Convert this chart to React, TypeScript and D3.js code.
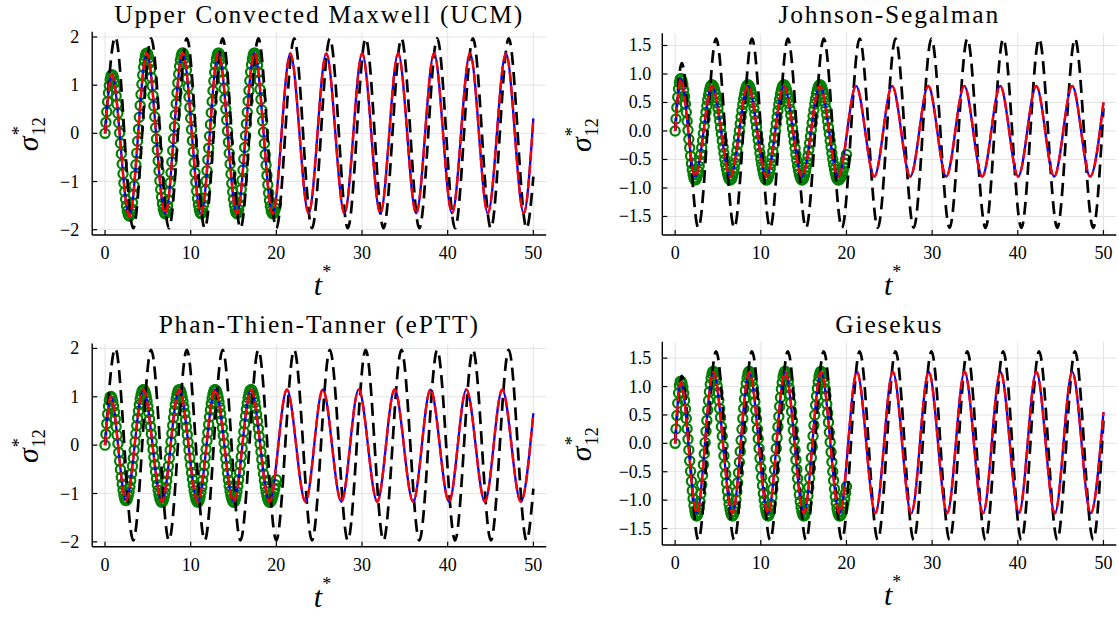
import React from "react";
import * as d3 from "d3";

// ---------------- data (extrema) ----------------
const xTicks = [0, 10, 20, 30, 40, 50];
const yTicksWide = [-2, -1, 0, 1, 2];
const yTicksNarrow = [-1.5, -1, -0.5, 0, 0.5, 1, 1.5];
const trainEnd = 20;
const trainStep = 0.1;

// UCM
const ucmPredT = [0, 0.8, 2.84, 4.87, 7.03, 9.06, 11.21, 13.24, 15.4, 17.44, 19.58, 21.63, 23.77, 25.83, 27.95, 30.02, 32.14, 34.22, 36.32, 38.41, 40.51, 42.61, 44.69, 46.8, 48.88, 50];
const ucmPredV = [0, 1.22, -1.72, 1.67, -1.67, 1.67, -1.67, 1.67, -1.67, 1.67, -1.67, 1.66, -1.66, 1.66, -1.66, 1.66, -1.66, 1.66, -1.66, 1.66, -1.66, 1.66, -1.66, 1.66, -1.66, 0.31];
const ucmTrainT = [0, 0.8, 2.84, 4.87, 7.03, 9.06, 11.21, 13.24, 15.4, 17.44, 19.58, 21.63];
const ucmTrainV = [0, 1.22, -1.72, 1.67, -1.67, 1.67, -1.67, 1.67, -1.67, 1.67, -1.67, 1.67];
// reference (black dashed) of UCM and ePTT panels
const maxwellRefT = [0, 1.2, 3.29, 5.38, 7.46, 9.55, 11.64, 13.73, 15.81, 17.9, 19.99, 22.08, 24.16, 26.25, 28.34, 30.43, 32.51, 34.6, 36.69, 38.78, 40.86, 42.95, 45.04, 47.13, 49.21, 50];
const maxwellRefV = [0, 2.0, -1.97, 1.97, -1.97, 1.97, -1.97, 1.97, -1.97, 1.97, -1.97, 1.97, -1.97, 1.97, -1.97, 1.97, -1.97, 1.97, -1.97, 1.97, -1.97, 1.97, -1.97, 1.97, -1.97, -0.9];

// Johnson-Segalman
const jsPredT = [0, 0.65, 2.33, 4.3, 6.45, 8.5, 10.66, 12.7, 14.82, 16.9, 19.05, 21.12, 23.25, 25.33, 27.45, 29.55, 31.65, 33.75, 35.85, 37.95, 40.05, 42.15, 44.25, 46.35, 48.45, 50];
const jsPredV = [0, 0.91, -0.8, 0.79, -0.8, 0.79, -0.8, 0.79, -0.8, 0.79, -0.8, 0.79, -0.8, 0.79, -0.8, 0.79, -0.8, 0.79, -0.8, 0.79, -0.8, 0.79, -0.8, 0.79, -0.8, 0.5];
const jsTrainT = [0, 0.65, 2.33, 4.3, 6.45, 8.5, 10.66, 12.7, 14.82, 16.9, 19.05, 21.12];
const jsTrainV = [0, 0.92, -0.86, 0.81, -0.86, 0.81, -0.86, 0.81, -0.86, 0.81, -0.86, 0.81];
// reference (black dashed) of JS and Giesekus panels
const nonlinRefT = [0, 0.77, 2.71, 4.78, 6.9, 8.97, 11.09, 13.16, 15.28, 17.35, 19.47, 21.54, 23.66, 25.73, 27.85, 29.92, 32.04, 34.11, 36.23, 38.3, 40.42, 42.49, 44.61, 46.68, 48.8, 50];
const nonlinRefV = [0, 1.19, -1.7, 1.62, -1.7, 1.62, -1.7, 1.62, -1.7, 1.62, -1.7, 1.62, -1.7, 1.62, -1.7, 1.62, -1.7, 1.62, -1.7, 1.62, -1.7, 1.62, -1.7, 1.62, -1.7, 0.4];

// ePTT
const pttPredT = [0, 0.66, 2.45, 4.47, 6.64, 8.66, 10.83, 12.85, 15.02, 17.04, 19.21, 21.23, 23.4, 25.42, 27.59, 29.61, 31.78, 33.8, 35.97, 37.99, 40.16, 42.18, 44.35, 46.37, 48.54, 50];
const pttPredV = [0, 1.01, -1.14, 1.15, -1.17, 1.15, -1.17, 1.15, -1.17, 1.15, -1.17, 1.15, -1.17, 1.15, -1.17, 1.15, -1.17, 1.15, -1.17, 1.15, -1.17, 1.15, -1.17, 1.15, -1.17, 0.66];
const pttTrainT = [0, 0.66, 2.45, 4.47, 6.64, 8.66, 10.83, 12.85, 15.02, 17.04, 19.21, 21.23];
const pttTrainV = [0, 1.01, -1.15, 1.15, -1.18, 1.15, -1.18, 1.15, -1.18, 1.15, -1.18, 1.15];

// Giesekus
const giePredT = [0, 0.65, 2.52, 4.46, 6.69, 8.65, 10.85, 12.84, 15.03, 17.03, 19.2, 21.22, 23.38, 25.41, 27.57, 29.6, 31.76, 33.79, 35.95, 37.98, 40.14, 42.17, 44.33, 46.36, 48.52, 50];
const giePredV = [0, 1.08, -1.23, 1.26, -1.23, 1.26, -1.23, 1.26, -1.23, 1.26, -1.23, 1.26, -1.23, 1.26, -1.23, 1.26, -1.23, 1.26, -1.23, 1.26, -1.23, 1.26, -1.23, 1.26, -1.23, 0.55];
const gieTrainT = [0, 0.65, 2.52, 4.46, 6.69, 8.65, 10.85, 12.84, 15.03, 17.03, 19.2, 21.22];
const gieTrainV = [0, 1.1, -1.28, 1.27, -1.28, 1.27, -1.28, 1.27, -1.28, 1.27, -1.28, 1.27];

const titles = ["Upper Convected Maxwell (UCM)", "Johnson-Segalman", "Phan-Thien-Tanner (ePTT)", "Giesekus"];

// ---------------- helpers ----------------
const FONT = "'Liberation Serif', 'Times New Roman', serif";

// tangents exactly as d3.curveMonotoneX computes them
function tangents(xs: number[], ys: number[]): number[] {
  const n = xs.length;
  const m = new Array(n).fill(0);
  const sign = (x: number) => (x < 0 ? -1 : 1);
  for (let i = 1; i < n - 1; i++) {
    const h0 = xs[i] - xs[i - 1], h1 = xs[i + 1] - xs[i];
    const s0 = (ys[i] - ys[i - 1]) / h0, s1 = (ys[i + 1] - ys[i]) / h1;
    const p = (s0 * h1 + s1 * h0) / (h0 + h1);
    m[i] = (sign(s0) + sign(s1)) * Math.min(Math.abs(s0), Math.abs(s1), 0.5 * Math.abs(p)) || 0;
  }
  m[0] = (3 * (ys[1] - ys[0]) / (xs[1] - xs[0]) - m[1]) / 2;
  m[n - 1] = (3 * (ys[n - 1] - ys[n - 2]) / (xs[n - 1] - xs[n - 2]) - m[n - 2]) / 2;
  return m;
}

function sampleAt(xs: number[], ys: number[], times: number[]): number[] {
  const m = tangents(xs, ys);
  return times.map((t) => {
    let i = d3.bisectRight(xs, t) - 1;
    i = Math.max(0, Math.min(xs.length - 2, i));
    const h = xs[i + 1] - xs[i];
    const s = (t - xs[i]) / h;
    const s2 = s * s, s3 = s2 * s;
    return (2 * s3 - 3 * s2 + 1) * ys[i] + (s3 - 2 * s2 + s) * h * m[i] + (-2 * s3 + 3 * s2) * ys[i + 1] + (s3 - s2) * h * m[i + 1];
  });
}

interface PanelSpec {
  title: string;
  titleY: number;
  left: number; right: number; top: number; bottom: number;
  yDomain: [number, number];
  yTicks: number[];
  yFmt: (v: number) => string;
  predT: number[]; predV: number[];
  trainT: number[]; trainV: number[];
  refT: number[]; refV: number[];
  ylabX: number;
  tickGap: number;
}

const minus = (s: string) => s.replace("-", "\u2212");
const fmtInt = (v: number) => minus(d3.format("d")(v));
const fmtDec = (v: number) => minus(d3.format(".1f")(v));

function Panel({ p }: { p: PanelSpec }) {
  const x = d3.scaleLinear().domain([-1.5, 51.5]).range([p.left, p.right]);
  const y = d3.scaleLinear().domain(p.yDomain).range([p.bottom, p.top]);
  const line = d3.line<[number, number]>().x((d) => x(d[0])).y((d) => y(d[1])).curve(d3.curveMonotoneX);
  const pred = p.predT.map((t, i) => [t, p.predV[i]] as [number, number]);
  const ref = p.refT.map((t, i) => [t, p.refV[i]] as [number, number]);
  const times = d3.range(0, Math.round(trainEnd / trainStep) + 1).map((i) => i * trainStep);
  const trainVals = sampleAt(p.trainT, p.trainV, times);
  const cx = (p.left + p.right) / 2;
  const cy = (p.top + p.bottom) / 2;
  return (
    <g>
      {/* grid */}
      {xTicks.map((t) => (
        <line key={"gx" + t} x1={x(t)} x2={x(t)} y1={p.top} y2={p.bottom} stroke="#e4e4e4" strokeWidth={1} />
      ))}
      {p.yTicks.map((v) => (
        <line key={"gy" + v} x1={p.left} x2={p.right} y1={y(v)} y2={y(v)} stroke="#e4e4e4" strokeWidth={1} />
      ))}
      {/* training data circles */}
      {times.map((t, i) => (
        <circle key={"c" + i} cx={x(t)} cy={y(trainVals[i])} r={4.6} fill="none" stroke="#008000" strokeWidth={2.2} />
      ))}
      {/* reference */}
      <path d={line(ref) || ""} fill="none" stroke="#000" strokeWidth={2.7} strokeDasharray="13,7" />
      {/* model */}
      <path d={line(pred) || ""} fill="none" stroke="#0000ff" strokeWidth={2.3} />
      <path d={line(pred) || ""} fill="none" stroke="#ff0000" strokeWidth={2.4} strokeDasharray="10,4" />
      {/* axes */}
      <line x1={p.left} x2={p.left} y1={p.top} y2={p.bottom} stroke="#000" strokeWidth={1.4} />
      <line x1={p.left} x2={p.right} y1={p.bottom} y2={p.bottom} stroke="#000" strokeWidth={1.4} />
      {xTicks.map((t) => (
        <g key={"tx" + t}>
          <line x1={x(t)} x2={x(t)} y1={p.bottom} y2={p.bottom - 5} stroke="#000" strokeWidth={1.2} />
          <text x={x(t)} y={p.bottom + 24} textAnchor="middle" fontFamily={FONT} fontSize={18}>{t}</text>
        </g>
      ))}
      {p.yTicks.map((v) => (
        <g key={"ty" + v}>
          <line x1={p.left} x2={p.left + 5} y1={y(v)} y2={y(v)} stroke="#000" strokeWidth={1.2} />
          <text x={p.left - p.tickGap} y={y(v) + 6} textAnchor="end" fontFamily={FONT} fontSize={18}>{p.yFmt(v)}</text>
        </g>
      ))}
      {/* title */}
      <text x={cx} y={p.titleY} textAnchor="middle" fontFamily={FONT} fontSize={25.5} letterSpacing={1.8}>{p.title}</text>
      {/* x label */}
      <text x={cx + 3} y={p.bottom + 60} textAnchor="end" fontFamily={FONT} fontSize={30} fontStyle="italic">t</text>
      <text x={cx + 3} y={p.bottom + 43} fontFamily={FONT} fontSize={18}>*</text>
      {/* y label */}
      <g transform={`translate(${p.ylabX},${cy}) rotate(-90)`}>
        <text x={-3} y={0} textAnchor="end" fontFamily={FONT} fontSize={30} fontStyle="italic">σ</text>
        <text x={-2} y={-13} fontFamily={FONT} fontSize={18}>*</text>
        <text x={-2} y={7} fontFamily={FONT} fontSize={18}>12</text>
      </g>
    </g>
  );
}

const panels: PanelSpec[] = [
  {
    title: titles[0], titleY: 23, left: 92.2, right: 546.2, top: 31.7, bottom: 235, yDomain: [-2.11, 2.11],
    yTicks: yTicksWide, yFmt: fmtInt, predT: ucmPredT, predV: ucmPredV, trainT: ucmTrainT, trainV: ucmTrainV,
    refT: maxwellRefT, refV: maxwellRefV, ylabX: 38, tickGap: 13,
  },
  {
    title: titles[1], titleY: 23, left: 662.3, right: 1116.3, top: 33.3, bottom: 235, yDomain: [-1.825, 1.714],
    yTicks: yTicksNarrow, yFmt: fmtDec, predT: jsPredT, predV: jsPredV, trainT: jsTrainT, trainV: jsTrainV,
    refT: nonlinRefT, refV: nonlinRefV, ylabX: 591, tickGap: 11,
  },
  {
    title: titles[2], titleY: 333, left: 92.2, right: 546.2, top: 343.6, bottom: 546.7, yDomain: [-2.1, 2.1],
    yTicks: yTicksWide, yFmt: fmtInt, predT: pttPredT, predV: pttPredV, trainT: pttTrainT, trainV: pttTrainV,
    refT: maxwellRefT, refV: maxwellRefV, ylabX: 38, tickGap: 13,
  },
  {
    title: titles[3], titleY: 333, left: 662.3, right: 1116.3, top: 341.7, bottom: 545, yDomain: [-1.79, 1.79],
    yTicks: yTicksNarrow, yFmt: fmtDec, predT: giePredT, predV: giePredV, trainT: gieTrainT, trainV: gieTrainV,
    refT: nonlinRefT, refV: nonlinRefV, ylabX: 591, tickGap: 11,
  },
];

export default function App() {
  return (
    <svg width={1119} height={617} style={{ position: "absolute", left: 0, top: 0, background: "#fff" }}>
      <rect x={0} y={0} width={1119} height={617} fill="#fff" />
      {panels.map((p, i) => (
        <Panel key={i} p={p} />
      ))}
    </svg>
  );
}
